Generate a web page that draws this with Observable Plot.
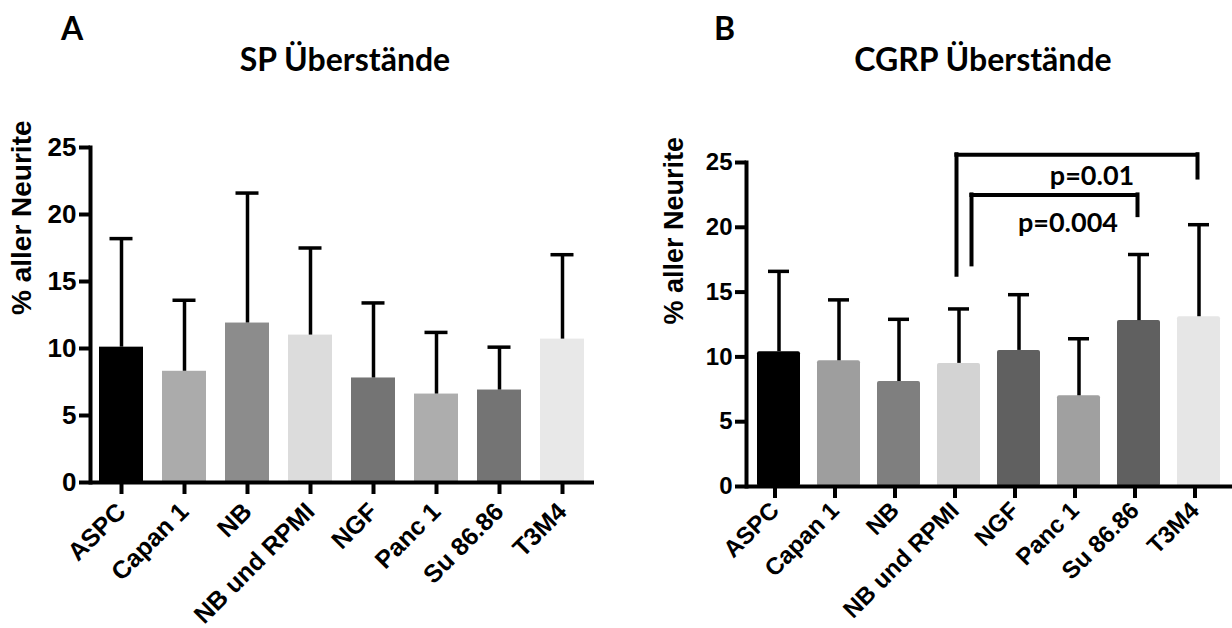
<!DOCTYPE html>
<html><head><meta charset="utf-8">
<script src="https://cdn.jsdelivr.net/npm/d3@7"></script>
<script src="https://cdn.jsdelivr.net/npm/@observablehq/plot@0.6"></script>
<style>
html,body{margin:0;padding:0;background:#fff;}
#root{position:relative;width:1232px;height:628px;overflow:hidden;}
.panel{position:absolute;top:0;}
.hd{position:absolute;font-family:Lato,"Open Sans",sans-serif;font-weight:bold;color:#000;white-space:nowrap;line-height:1;}
</style></head><body>
<div id="root">
  <div id="panelA" class="panel" style="left:0px"></div>
  <div id="panelB" class="panel" style="left:600px"></div>
  <div class="hd" style="left:61px;top:12px;font-size:32px">A</div>
  <div class="hd" id="titleA" style="left:345px;top:43px;font-size:32px;transform:translateX(-50%)">SP Überstände</div>
  <div class="hd" style="left:714px;top:12px;font-size:32px">B</div>
  <div class="hd" id="titleB" style="left:983px;top:43px;font-size:32px;transform:translateX(-50%)">CGRP Überstände</div>
</div>
<script>
// ---- data ----
const categories = ["ASPC", "Capan 1", "NB", "NB und RPMI", "NGF", "Panc 1", "Su 86.86", "T3M4"];
const spMean   = [10.1, 8.3, 11.9, 11.0, 7.8, 6.6, 6.9, 10.7];
const spSd     = [8.1, 5.3, 9.7, 6.5, 5.6, 4.6, 3.2, 6.3];
const cgrpMean = [10.4, 9.7, 8.1, 9.5, 10.5, 7.0, 12.8, 13.1];
const cgrpSd   = [6.2, 4.7, 4.8, 4.2, 4.3, 4.4, 5.1, 7.1];
const yTicks = [0, 5, 10, 15, 20, 25];
const yLabel = "% aller Neurite";
const spTitle = "SP Überstände";
const cgrpTitle = "CGRP Überstände";
const spColors   = ["#000000", "#ababab", "#8c8c8c", "#dcdcdc", "#747474", "#adadad", "#747474", "#e8e8e8"];
const cgrpColors = ["#000000", "#9e9e9e", "#7f7f7f", "#d3d3d3", "#606060", "#a0a0a0", "#606060", "#e6e6e6"];
const brackets = [
  {from: "NB und RPMI", to: "T3M4",     top: 25.6, leftEnd: 16.3, rightEnd: 23.8, label: "p=0.01"},
  {from: "NB und RPMI", to: "Su 86.86", top: 22.5, leftEnd: 17.1, rightEnd: 20.9, label: "p=0.004"}
];

const spData = categories.map((c, i) => ({cat: c, mean: spMean[i], sd: spSd[i]}));
const cgrpData = categories.map((c, i) => ({cat: c, mean: cgrpMean[i], sd: cgrpSd[i]}));

const FONT = "Liberation Sans, Arial, sans-serif";
const H = 628;

function panel({data, colors, width, ml, mr, mt, mb, padIn, capInset, labelDx, labelSize, yFont, xFont, tickPad, xdx, rx, extra}) {
  return Plot.plot({
    width, height: H,
    marginLeft: ml, marginRight: mr, marginTop: mt, marginBottom: mb,
    style: {fontFamily: FONT, fontWeight: "bold", background: "transparent", overflow: "visible", color: "#000"},
    x: {domain: categories, paddingInner: padIn, paddingOuter: padIn / 2, label: null},
    y: {domain: [0, 25], label: null},
    color: {domain: categories, range: colors},
    marks: [
      Plot.barY(data, {x: "cat", y: "mean", fill: "cat", rx}),
      Plot.ruleX(data, {x: "cat", y1: "mean", y2: d => d.mean + d.sd, strokeWidth: 3.5}),
      Plot.tickY(data, {x: "cat", y: d => d.mean + d.sd, strokeWidth: 3.5, insetLeft: capInset, insetRight: capInset}),
      Plot.axisY({ticks: yTicks, tickSize: 11, tickPadding: 3, strokeWidth: 4, fontSize: yFont, fontWeight: "bold", label: null}),
      Plot.axisX({tickSize: 12, tickPadding: tickPad, strokeWidth: 4, tickRotate: -45, fontSize: xFont, fontWeight: "bold", label: null, dx: xdx}),
      Plot.frame({anchor: "left", strokeWidth: 4}),
      Plot.ruleY([0], {strokeWidth: 4}),
      Plot.text([yLabel], {frameAnchor: "left", rotate: -90, dx: labelDx, fontSize: labelSize, fontWeight: "bold"}),
      ...(extra || [])
    ]
  });
}

// panel A
const plotA = panel({data: spData, colors: spColors, width: 600, ml: 90, mr: 6, mt: 147, mb: 146,
  padIn: 0.3, capInset: 10.5, labelDx: -68, labelSize: 28, yFont: 26, xFont: 25, tickPad: 13, xdx: 0, rx: 0});
document.getElementById("panelA").appendChild(plotA);

// panel B
const wB = 632, mlB = 146, mrB = 0, padB = 0.28;
const bwB = (wB - mlB - mrB) / categories.length * (1 - padB);
function bracketMarks(b, dxL, dxR) {
  return [
    Plot.ruleY([b], {y: "top", x1: "from", x2: "to", insetLeft: bwB / 2 + dxL, insetRight: bwB / 2 - dxR, strokeWidth: 4, strokeLinecap: "square"}),
    Plot.ruleX([b], {x: "from", y1: "leftEnd", y2: "top", dx: dxL, strokeWidth: 4, strokeLinecap: "square"}),
    Plot.ruleX([b], {x: "to", y1: "rightEnd", y2: "top", dx: dxR, strokeWidth: 4, strokeLinecap: "square"})
  ];
}
const extraB = [
  ...bracketMarks(brackets[0], -2.5, -1.5),
  ...bracketMarks(brackets[1], 12.5, -1.5),
  Plot.text([brackets[0]], {x: () => "Panc 1", y: "top", text: "label", dx: 13, dy: 22, fontSize: 27, fontWeight: "bold", fontFamily: "Lato, Open Sans, sans-serif"}),
  Plot.text([brackets[1]], {x: () => "Panc 1", y: "top", text: "label", dx: -11, dy: 28, fontSize: 27, fontWeight: "bold", fontFamily: "Lato, Open Sans, sans-serif"})
];
const plotB = panel({data: cgrpData, colors: cgrpColors, width: wB, ml: mlB, mr: mrB, mt: 162, mb: 142,
  padIn: padB, capInset: 11, labelDx: -72, labelSize: 27, yFont: 24, xFont: 24, tickPad: 8, xdx: -4, rx: 2, extra: extraB});
document.getElementById("panelB").appendChild(plotB);

document.getElementById("titleA").textContent = spTitle;
document.getElementById("titleB").textContent = cgrpTitle;
</script>
</body></html>
